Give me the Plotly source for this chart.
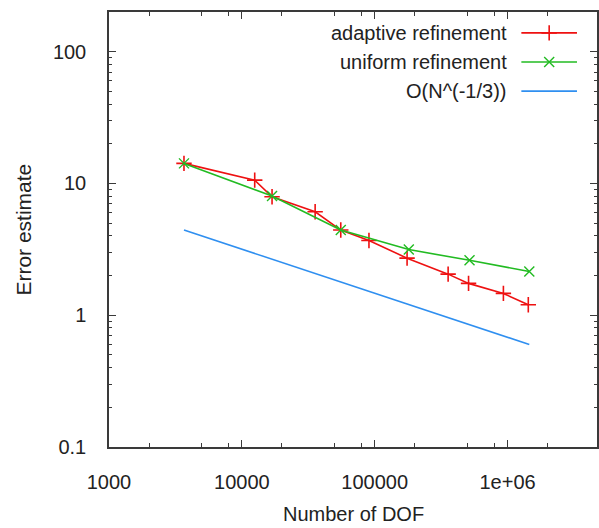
import plotly.graph_objects as go

# Error estimates vs. number of degrees of freedom
adaptive_dof = [3667, 12495, 16874, 35610, 55520, 90490, 175200, 356900, 508400, 930000, 1432000]
adaptive_err = [14.2, 10.6, 7.93, 6.10, 4.43, 3.69, 2.71, 2.05, 1.744, 1.464, 1.20]

uniform_dof = [3667, 16874, 55520, 180500, 517000, 1457000]
uniform_err = [14.2, 8.02, 4.43, 3.15, 2.61, 2.15]

# reference slope line O(N^(-1/3))
ref_dof = [3667, 1457000]
ref_err = [4.43, 0.60]

series_names = ["adaptive refinement", "uniform refinement", "O(N^(-1/3))"]
colors = ["#ee1111", "#22bb22", "#2f8ff0"]

x_major = [1000, 10000, 100000, 1000000]
x_major_text = ["1000", "10000", "100000", "1e+06"]
y_major = [0.1, 1, 10, 100]
y_major_text = ["0.1", "1", "10", "100"]

FONT = "Liberation Sans"
AXIS_COLOR = "#3a3a3a"
TEXT_COLOR = "#222222"

x_minor = [m * d for d in [1e3, 1e4, 1e5, 1e6] for m in (2, 5, 8)]
y_minor = [m * d for d in [0.1, 1, 10, 100] for m in range(2, 10) if m * d < 200]

fig = go.Figure()

fig.add_trace(go.Scatter(
    x=adaptive_dof, y=adaptive_err, mode="lines+markers", name=series_names[0],
    line=dict(color=colors[0], width=1.6),
    marker=dict(symbol="cross-thin", size=11, line=dict(color=colors[0], width=1.6)),
    showlegend=False))
fig.add_trace(go.Scatter(
    x=uniform_dof, y=uniform_err, mode="lines+markers", name=series_names[1],
    line=dict(color=colors[1], width=1.6),
    marker=dict(symbol="x-thin", size=10, line=dict(color=colors[1], width=1.4)),
    showlegend=False))
fig.add_trace(go.Scatter(
    x=ref_dof, y=ref_err, mode="lines", name=series_names[2],
    line=dict(color=colors[2], width=1.6), showlegend=False))

# key in the upper right: text left of the line samples
key_y = [0.952, 0.885, 0.818]
key_x0, key_x1 = 0.845, 0.959
for i, name in enumerate(series_names):
    fig.add_trace(go.Scatter(
        x=[key_x0, key_x1], y=[key_y[i], key_y[i]], mode="lines",
        line=dict(color=colors[i], width=1.6), xaxis="x2", yaxis="y2",
        showlegend=False, hoverinfo="skip"))
    fig.add_annotation(
        x=key_x0 - 0.026, y=key_y[i], xref="paper", yref="paper",
        text=name, showarrow=False, xanchor="right", yanchor="middle",
        font=dict(family=FONT, size=20, color=TEXT_COLOR))
fig.add_trace(go.Scatter(
    x=[(key_x0 + key_x1) / 2], y=[key_y[0]], mode="markers", xaxis="x2", yaxis="y2",
    marker=dict(symbol="cross-thin", size=11, line=dict(color=colors[0], width=1.6)),
    showlegend=False, hoverinfo="skip"))
fig.add_trace(go.Scatter(
    x=[(key_x0 + key_x1) / 2], y=[key_y[1]], mode="markers", xaxis="x2", yaxis="y2",
    marker=dict(symbol="x-thin", size=10, line=dict(color=colors[1], width=1.4)),
    showlegend=False, hoverinfo="skip"))

axis_common = dict(
    showline=True, linecolor=AXIS_COLOR, linewidth=1.5, mirror="allticks",
    ticks="inside", ticklen=7, tickwidth=1.2, tickcolor=AXIS_COLOR,
    showgrid=False, zeroline=False,
    tickfont=dict(family=FONT, size=20, color=TEXT_COLOR),
)

fig.update_layout(
    width=599, height=528,
    margin=dict(l=109, r=0, t=12, b=81),
    paper_bgcolor="white", plot_bgcolor="white",
    xaxis=dict(type="log", range=[3, 6.673], tickmode="array",
               tickvals=x_major, ticktext=x_major_text, ticklabelstandoff=16,
               minor=dict(tickmode="array", tickvals=x_minor, ticks="inside",
                          ticklen=4, tickcolor=AXIS_COLOR, tickwidth=1.2),
               **axis_common),
    yaxis=dict(type="log", range=[-1, 2.30103], tickmode="array",
               tickvals=y_major, ticktext=y_major_text, ticklabelstandoff=17,
               minor=dict(tickmode="array", tickvals=y_minor, ticks="inside",
                          ticklen=3, tickcolor=AXIS_COLOR, tickwidth=1.2),
               **axis_common),
    xaxis2=dict(overlaying="x", range=[0, 1], visible=False, fixedrange=True),
    yaxis2=dict(overlaying="y", range=[0, 1], visible=False, fixedrange=True),
    showlegend=False,
)

fig.add_annotation(x=0.5, y=-0.153, xref="paper", yref="paper",
                   xanchor="center", yanchor="middle",
                   text="Number of DOF", showarrow=False,
                   font=dict(family=FONT, size=20, color=TEXT_COLOR))
fig.add_annotation(x=-0.176, y=0.5, xref="paper", yref="paper", textangle=-90,
                   xanchor="center", yanchor="middle",
                   text="Error estimate", showarrow=False,
                   font=dict(family=FONT, size=21, color=TEXT_COLOR))

fig.write_html("out.html")
